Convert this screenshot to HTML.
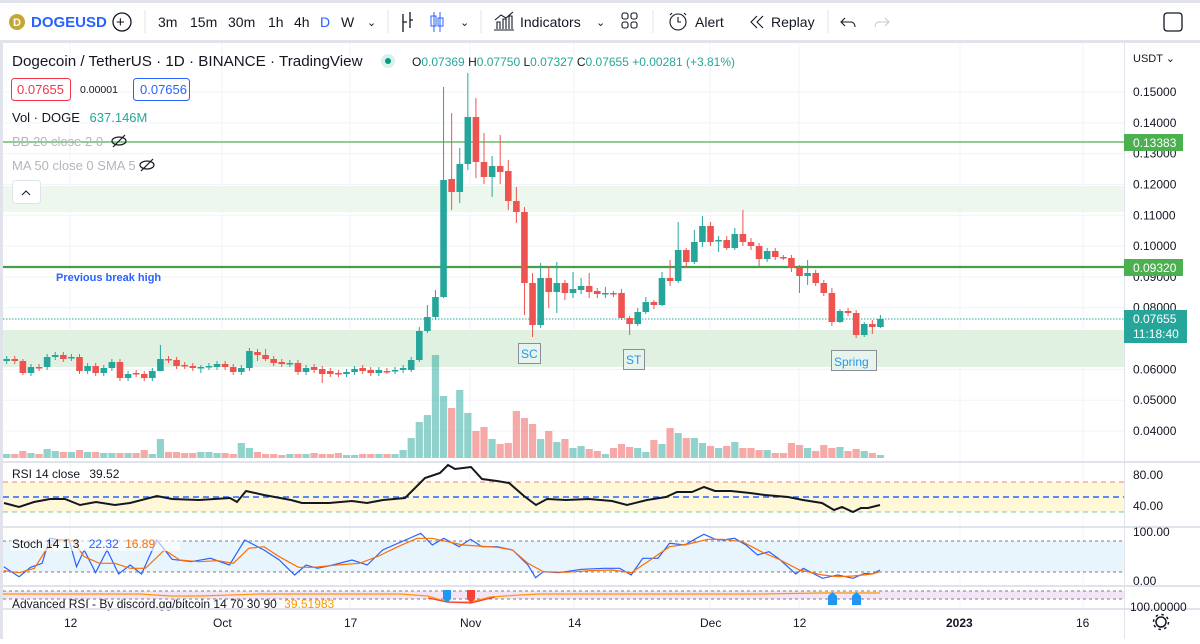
<!DOCTYPE html>
<html><head><meta charset="utf-8"><style>
body{margin:0;background:#fff;width:1200px;height:639px;overflow:hidden;font-family:"Liberation Sans",sans-serif}
svg text{font-family:"Liberation Sans",sans-serif}
</style></head><body>
<svg id="s" width="1200" height="639" xmlns="http://www.w3.org/2000/svg">
<rect width="1200" height="639" fill="#fff"/>
<rect x="0" y="0" width="1200" height="3" fill="#e0e3eb"/>
<rect x="0" y="40" width="1200" height="3" fill="#e0e3eb"/>
<circle cx="17" cy="22" r="8" fill="#c3a634"/><text x="13" y="26" font-size="11" font-weight="bold" fill="#fff">D</text>
<text x="31" y="27" font-size="15" font-weight="bold" fill="#2962ff">DOGEUSD</text>
<circle cx="122" cy="22" r="9" fill="none" stroke="#131722" stroke-width="1.3"/><text x="116" y="27" font-size="15" fill="#131722">+</text>
<line x1="145" y1="10" x2="145" y2="33" stroke="#e0e3eb"/>
<g font-size="14" fill="#131722"><text x="158" y="27">3m</text><text x="190" y="27">15m</text><text x="228" y="27">30m</text><text x="268" y="27">1h</text><text x="294" y="27">4h</text><text x="320" y="27" fill="#2962ff">D</text><text x="341" y="27">W</text><text x="367" y="26" font-size="11">⌄</text>
<text x="520" y="27">Indicators</text><text x="596" y="26" font-size="11">⌄</text><text x="695" y="27">Alert</text><text x="771" y="27">Replay</text></g>
<line x1="388" y1="10" x2="388" y2="33" stroke="#e0e3eb"/>
<path d="M403 14v18M410 12v16M403 22h4M410 20h3" stroke="#131722" fill="none" stroke-width="1.3"/>
<path d="M434 12v20M440 12v20" stroke="#2962ff"/><rect x="431" y="16" width="5" height="10" fill="none" stroke="#2962ff"/><rect x="438" y="18" width="5" height="8" fill="none" stroke="#2962ff"/>
<text x="460" y="26" font-size="11" fill="#131722">⌄</text>
<line x1="481" y1="10" x2="481" y2="33" stroke="#e0e3eb"/>
<path d="M494 30h20M497 29v-7h3v7M503 29v-10h3v10M509 29v-13h3v13M495 20l6-5 5 3 7-6" stroke="#131722" fill="none" stroke-width="1.1"/>
<g fill="none" stroke="#131722" stroke-width="1.1"><rect x="622" y="13" width="6" height="6" rx="2"/><rect x="631" y="13" width="6" height="6" rx="2"/><rect x="622" y="22" width="6" height="6" rx="2"/><rect x="631" y="22" width="6" height="6" rx="2"/>
<circle cx="678" cy="22" r="8"/><path d="M678 17v5h3M672 13l-2 2M684 13l2 2"/>
<path d="M757 16l-6 6 6 6M763 16l-6 6 6 6"/><path d="M845 18l-4 4 4 4M841 22h10c3 0 4 3 4 5"/></g>
<path d="M885 18l4 4-4 4M889 22h-10c-3 0-4 3-4 5" stroke="#c5c8d0" fill="none"/>
<line x1="653" y1="10" x2="653" y2="33" stroke="#e0e3eb"/><line x1="828" y1="10" x2="828" y2="33" stroke="#e0e3eb"/>
<rect x="1164" y="13" width="18" height="18" rx="3" fill="none" stroke="#131722" stroke-width="1.3"/>
<rect x="0" y="43" width="3" height="596" fill="#e0e3eb"/>
<g id="grid" stroke="#f0f3fa" stroke-width="1"></g>
<rect x="3" y="186" width="1121" height="26" fill="#e8f5e9" opacity=".8"/>
<rect x="3" y="330" width="1121" height="37" fill="#e0f0e1"/>
<line x1="3" y1="142" x2="1124" y2="142" stroke="#4caf50" stroke-width="1.3"/>
<line x1="3" y1="267" x2="1124" y2="267" stroke="#43a047" stroke-width="2.2"/>
<line x1="3" y1="319" x2="1124" y2="319" stroke="#26a69a" stroke-width="1" stroke-dasharray="1.5 1.5"/>
<g id="vol"></g><g id="cand"></g>
<text x="12" y="66" font-size="15.2" fill="#131722">Dogecoin / TetherUS · 1D · BINANCE · TradingView</text>
<circle cx="388" cy="61" r="7" fill="#d9f0ec"/><circle cx="388" cy="61" r="3" fill="#089981"/>
<text x="412" y="66" font-size="12" fill="#131722">O<tspan fill="#26a69a">0.07369</tspan> H<tspan fill="#26a69a">0.07750</tspan> L<tspan fill="#26a69a">0.07327</tspan> C<tspan fill="#26a69a">0.07655 +0.00281 (+3.81%)</tspan></text>
<rect x="11.5" y="78.5" width="59" height="22" rx="3" fill="#fff" stroke="#f23645"/><text x="17" y="94" font-size="13" fill="#f23645">0.07655</text>
<text x="80" y="93" font-size="10.5" fill="#131722">0.00001</text>
<rect x="133.5" y="78.5" width="56" height="22" rx="3" fill="#fff" stroke="#2962ff"/><text x="140" y="94" font-size="13" fill="#2962ff">0.07656</text>
<text x="12" y="122" font-size="13" fill="#131722">Vol · DOGE <tspan dx="6" fill="#26a69a">637.146M</tspan></text>
<text x="12" y="146" font-size="13" fill="#b2b5be">BB 20 close 2 0</text>
<text x="12" y="170" font-size="13" fill="#b2b5be">MA 50 close 0 SMA 5</text>
<g fill="none" stroke="#131722" stroke-width="1.2"><ellipse cx="119" cy="141" rx="7" ry="4"/><line x1="113" y1="147" x2="125" y2="135"/><ellipse cx="147" cy="165" rx="7" ry="4"/><line x1="141" y1="171" x2="153" y2="159"/></g>
<rect x="12.5" y="180.5" width="28" height="23" rx="3" fill="#fff" stroke="#e0e3eb"/><path d="M22 195l4-4 4 4" stroke="#131722" fill="none"/>
<text x="56" y="281" font-size="11" font-weight="bold" fill="#2962ff">Previous break high</text>
<g font-size="12" fill="#2196f3"><rect x="518.5" y="343.5" width="22" height="20" fill="#e6f4ec" stroke="#8a8e98"/><text x="521" y="358">SC</text>
<rect x="623.5" y="349.5" width="21" height="20" fill="#e6f4ec" stroke="#8a8e98"/><text x="626" y="364">ST</text>
<rect x="831.5" y="350.5" width="45" height="20" fill="#e6f4ec" stroke="#8a8e98"/><text x="834" y="366">Spring</text></g>
<line x1="3" y1="462" x2="1200" y2="462" stroke="#e0e3eb" stroke-width="2"/>
<rect x="3" y="482" width="1121" height="30" fill="#fff8d8"/>
<line x1="3" y1="482" x2="1124" y2="482" stroke="#f08080" stroke-dasharray="5 4"/>
<line x1="3" y1="497" x2="1124" y2="497" stroke="#2962ff" stroke-width="1.6" stroke-dasharray="6 4"/>
<line x1="3" y1="512" x2="1124" y2="512" stroke="#81c784" stroke-dasharray="5 4"/>
<path id="rsi" fill="none" stroke="#131722" stroke-width="2"/>
<text x="12" y="478" font-size="12" fill="#131722">RSI 14 close <tspan dx="6">39.52</tspan></text>
<line x1="3" y1="527" x2="1200" y2="527" stroke="#e0e3eb" stroke-width="2"/>
<rect x="3" y="541" width="1121" height="31" fill="#e3f2fd" opacity=".8"/>
<line x1="3" y1="541" x2="1124" y2="541" stroke="#787b86" stroke-dasharray="3 3"/>
<line x1="3" y1="572" x2="1124" y2="572" stroke="#787b86" stroke-dasharray="3 3"/>
<path id="stb" fill="none" stroke="#2962ff" stroke-width="1.2"/><path id="sto" fill="none" stroke="#ff6d00" stroke-width="1.2"/>
<rect x="10" y="535" width="170" height="16" fill="#fff" opacity=".6"/>
<text x="12" y="548" font-size="12" fill="#131722">Stoch 14 1 3 <tspan dx="6" fill="#2962ff">22.32</tspan> <tspan dx="3" fill="#ff6d00">16.89</tspan></text>
<line x1="3" y1="586" x2="1200" y2="586" stroke="#e0e3eb" stroke-width="2"/>
<rect x="3" y="591" width="1121" height="8" fill="#f3e5f5"/>
<line x1="3" y1="591" x2="1124" y2="591" stroke="#787b86" stroke-dasharray="3 3"/>
<line x1="3" y1="599" x2="1124" y2="599" stroke="#787b86" stroke-dasharray="3 3"/>
<path d="M3 594L140 594L170 596L200 596L260 594L400 594L428 596L447 602L471 602L490 597L520 595L540 594L700 594L760 594L820 593L880 593" fill="none" stroke="#ff9800" stroke-width="1.2"/>
<path d="M428 598L447 602L471 603L495 597" fill="none" stroke="#f44336" stroke-width="1.2"/>
<path d="M443 590h8v9l-4 4l-4-4z" fill="#2196f3"/><path d="M467 590h8v9l-4 4l-4-4z" fill="#f44336"/>
<path d="M828 605h9v-9l-4.5-4l-4.5 4z" fill="#2196f3"/><path d="M852 605h9v-9l-4.5-4l-4.5 4z" fill="#2196f3"/>
<text x="12" y="608" font-size="12" fill="#131722">Advanced RSI - By discord.gg/bitcoin 14 70 30 90 <tspan dx="4" fill="#ff9800">39.51983</tspan></text>
<line x1="3" y1="609" x2="1200" y2="609" stroke="#e0e3eb" stroke-width="2"/>
<line x1="1124.5" y1="43" x2="1124.5" y2="639" stroke="#e0e3eb"/>
<g font-size="12" fill="#131722" id="ax"><text x="1133" y="62" font-size="11">USDT ⌄</text>
<text x="1133" y="479">80.00</text><text x="1133" y="510">40.00</text><text x="1133" y="536">100.00</text><text x="1133" y="585">0.00</text><text x="1130" y="611">100.00000</text></g>
<rect x="1124" y="134" width="59" height="17" fill="#4caf50"/><text x="1133" y="147" font-size="12" fill="#fff">0.13383</text>
<rect x="1124" y="259" width="59" height="17" fill="#4caf50"/><text x="1133" y="272" font-size="12" fill="#fff">0.09320</text>
<rect x="1124" y="310" width="63" height="33" fill="#26a69a"/><text x="1133" y="323" font-size="12" fill="#fff">0.07655</text><text x="1133" y="338" font-size="12" fill="#fff">11:18:40</text>
<g font-size="12" fill="#131722"><text x="64" y="627">12</text><text x="213" y="627">Oct</text><text x="344" y="627">17</text><text x="460" y="627">Nov</text><text x="568" y="627">14</text><text x="700" y="627">Dec</text><text x="793" y="627">12</text><text x="946" y="627" font-weight="bold">2023</text><text x="1076" y="627">16</text></g>
<circle cx="1161" cy="622" r="5" fill="none" stroke="#131722" stroke-width="1.5"/><circle cx="1161" cy="622" r="7.5" fill="none" stroke="#131722" stroke-width="1.5" stroke-dasharray="2.5 3.4"/>
</svg>
<script>
var NS="http://www.w3.org/2000/svg";
function el(p,t,a){var e=document.createElementNS(NS,t);for(var k in a)e.setAttribute(k,a[k]);p.appendChild(e);return e;}
var g=document.getElementById('grid'),ax=document.getElementById('ax');
[70,222,350,470,574,710,799,960,1083].forEach(function(x){el(g,'line',{x1:x,y1:43,x2:x,y2:609});});
for(var i=0;i<12;i++){var y=92+i*30.82;el(g,'line',{x1:3,y1:y,x2:1124,y2:y});
 if(Math.abs(y-142)>6&&Math.abs(y-267)>6&&Math.abs(y-326)>14){var t=el(ax,'text',{x:1133,y:y+4});t.textContent='0.'+String(15-i).padStart(2,'0')+'000';}}
var L=[[361,359],[359,361],[361,373,359,375],[373,367],[367,368],[367,357],[357,355],[355,359],[358,357],[357,371],[371,366],[366,373],[373,368],[368,362],[362,378],[378,374],[373,374],[374,378],[378,371],[371,359,345,361],[359,360],[360,366],[365,366],[366,368],[367,367,365,373],[367,366],[367,364],[364,367],[367,372],[372,368],[368,351],[352,355,349,361],[355,359,349,361],[359,363],[362,364],[364,363],[363,372],[372,368],[367,370],[369,374,366,383],[371,374],[373,374],[374,372],[372,369],[368,371],[370,373],[373,370],[371,371],[371,370],[370,368],
[370,360,357,372],[360,331,327,362],[331,317,305,333],[317,297,290,320],[297,180,87,298],[179,192,113,210],[192,164,148,203],[164,117,73,170],[117,162,98,178],[162,177,133,184],[177,166,156,197],[166,172,135,184],[171,201,160,210],[201,212,187,223],[212,283,207,315],[283,325,273,337],[325,278,263,328],[278,292,266,308],[292,283,262,313],[283,293,280,300],[293,289,272,298],[290,286,278,294],[286,292,273,298],[291,294,288,298],[293,293,287,298],[293,294,291,297],[293,318,289,320],[318,324,316,335],[324,312,308,326],[312,302,297,314],[302,305,300,309],[305,278,272,306],[278,281,260,286],[281,250,222,283],[250,262,248,268],[262,242,230,264],[242,226,216,247],[226,242,222,246],[240,240,236,252],[240,248,236,250],[248,234,228,250],[234,242,210,246],[242,246,238,250],[246,259,243,266],[259,251,248,262],[251,257,248,260],[257,258,255,260],[258,268,255,272],[268,276,265,293],[276,273,260,285],[273,283,270,286],[283,293,280,296],[293,322,288,326],[322,311,309,323],[311,313,308,316],[313,335,310,338],[335,324,322,337],[324,327,320,334],[327,319,315,328]];
var V=[454,454,451,453,454,449,451,452,452,450,452,452,453,453,453,453,453,450,454,439,452,452,453,453,452,452,453,453,454,443,448,452,454,454,455,454,454,454,453,454,454,453,455,455,454,454,454,454,454,
 450,438,422,415,355,396,408,390,413,431,427,439,444,443,411,418,424,439,431,442,439,448,446,449,451,454,448,444,447,448,452,440,444,428,433,438,438,443,446,448,446,442,448,448,450,450,453,453,443,445,448,451,445,448,447,451,449,451,453];
var C=document.getElementById('cand'),VG=document.getElementById('vol');
L.forEach(function(d,i){var x=6.7+i*8.09,o=d[0],c=d[1],up=c<o||(c==o&&i%2==0);
 var h=d[2]!==undefined?d[2]:Math.min(o,c)-3,l=d[3]!==undefined?d[3]:Math.max(o,c)+3;
 var col=up?'#26a69a':'#ef5350';
 var vy=V[i]||455; el(VG,'rect',{x:x-3.6,y:vy,width:7.2,height:458-vy,fill:up?'rgba(38,166,154,.5)':'rgba(239,83,80,.5)'});
 el(C,'line',{x1:x,y1:h,x2:x,y2:l,stroke:col,'stroke-width':1});
 var t=Math.min(o,c),b=Math.max(o,c);if(b-t<1.5){b=t+1.5;}
 el(C,'rect',{x:x-3.3,y:t,width:6.6,height:b-t,fill:col});});
function path(id,pts,sx){var s='';for(var i=0;i<pts.length;i+=2){var x=sx?pts[i]/1.307:pts[i],y=sx?450+pts[i+1]/3:pts[i+1];s+=(i?'L':'M')+x.toFixed(1)+' '+y.toFixed(1);}document.getElementById(id).setAttribute('d',s);}
path('rsi',[4,503,19,507,34,502,50,499,65,499,80,505,96,502,115,505,130,503,157,496,172,499,199,500,230,498,237,502,246,491,264,495,291,500,302,503,329,503,352,501,367,503,383,500,405,498,425,478,440,473,448,465,455,469,471,467,482,479,497,481,509,483,524,496,536,505,547,499,566,500,589,499,612,501,627,505,647,500,666,497,677,492,692,492,704,487,715,491,731,491,750,493,765,495,788,497,803,500,822,503,834,510,842,507,853,512,861,508,868,508,880,505]);
path('stb',[5,350,25,380,40,352,55,340,65,265,80,270,90,268,100,350,110,300,125,368,140,300,155,372,170,345,185,372,205,270,225,328,250,335,275,325,300,345,320,270,345,300,365,330,385,375,400,345,415,355,435,345,460,330,480,345,500,300,530,270,550,250,565,285,580,265,600,290,615,268,630,290,650,290,670,300,690,345,700,383,710,365,730,368,760,358,790,355,810,355,825,375,840,325,860,325,875,280,895,285,910,265,920,253,935,268,945,270,960,265,975,285,990,315,1005,305,1020,330,1040,372,1050,355,1075,385,1095,375,1115,385,1130,370,1140,372,1150,360],1);
path('sto',[5,362,25,368,45,355,60,300,75,270,95,272,110,320,130,340,150,340,170,355,190,355,215,300,235,330,260,335,285,332,305,340,325,295,345,290,365,320,390,352,410,352,440,345,470,340,495,318,520,290,545,265,565,265,585,275,605,285,625,288,650,292,670,300,690,340,710,365,740,367,770,362,800,360,825,368,850,330,875,290,900,282,925,268,945,268,970,275,995,305,1020,330,1045,360,1075,375,1095,380,1115,378,1140,372,1150,365],1);
</script>
</body></html>
